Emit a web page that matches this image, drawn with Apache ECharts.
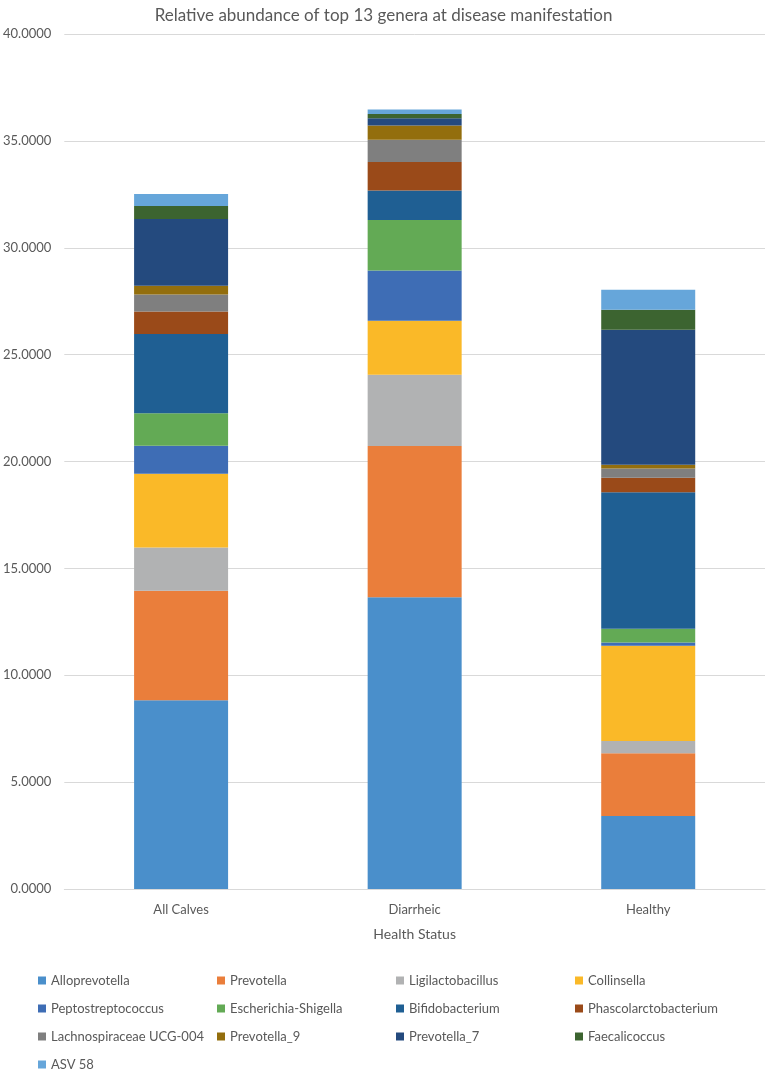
<!DOCTYPE html>
<html><head><meta charset="utf-8">
<script src="https://cdn.jsdelivr.net/npm/echarts@6/dist/echarts.min.js"></script>
<style>html,body{margin:0;padding:0;background:#fff}#c{width:767px;height:1073px}</style>
</head><body><div id="c"></div>
<script>
const categories = ['All Calves', 'Diarrheic', 'Healthy'];
const genera = ['Alloprevotella','Prevotella','Ligilactobacillus','Collinsella','Peptostreptococcus','Escherichia-Shigella','Bifidobacterium','Phascolarctobacterium','Lachnospiraceae UCG-004','Prevotella_9','Prevotella_7','Faecalicoccus','ASV 58'];
const alloprevotella = [8.83, 13.65, 3.41];
const prevotella = [5.12, 7.07, 2.94];
const ligilactobacillus = [2.03, 3.34, 0.57];
const collinsella = [3.45, 2.53, 4.46];
const peptostreptococcus = [1.31, 2.35, 0.15];
const escherichiaShigella = [1.52, 2.36, 0.65];
const bifidobacterium = [3.71, 1.38, 6.38];
const phascolarctobacterium = [1.05, 1.33, 0.68];
const lachnospiraceae = [0.79, 1.04, 0.43];
const prevotella9 = [0.41, 0.67, 0.18];
const prevotella7 = [3.13, 0.34, 6.31];
const faecalicoccus = [0.60, 0.20, 0.94];
const asv58 = [0.56, 0.21, 0.93];
const values = [alloprevotella, prevotella, ligilactobacillus, collinsella, peptostreptococcus, escherichiaShigella, bifidobacterium, phascolarctobacterium, lachnospiraceae, prevotella9, prevotella7, faecalicoccus, asv58];
const colors = ['#4a8fcb','#ea7e3b','#b1b2b3','#fab928','#3e6db5','#63aa55','#1f5f93','#9a4a19','#7f7f7f','#936e0d','#244a7e','#3c6430','#66a6da'];

const font = 'Lato';
const chart = echarts.init(document.getElementById('c'));
chart.setOption({
  animation: false,
  color: colors,
  title: {
    text: 'Relative abundance of top 13 genera at disease manifestation',
    left: 'center', top: 2,
    textStyle: {fontFamily: font, fontSize: 17, fontWeight: 'normal', color: '#595959'}
  },
  grid: {left: 64, right: 2, top: 34, bottom: 184},
  xAxis: {
    type: 'category', data: categories,
    name: 'Health Status', nameLocation: 'middle', nameGap: 38,
    nameTextStyle: {fontFamily: font, fontSize: 14, color: '#595959'},
    axisLine: {lineStyle: {color: '#d9d9d9'}},
    axisTick: {show: false},
    axisLabel: {fontFamily: font, fontSize: 13, color: '#595959', margin: 14}
  },
  yAxis: {
    type: 'value', min: 0, max: 40, interval: 5,
    axisLine: {show: false}, axisTick: {show: false},
    splitLine: {lineStyle: {color: '#d9d9d9'}},
    axisLabel: {fontFamily: font, fontSize: 13, color: '#595959', margin: 13, formatter: v => v.toFixed(4)}
  },
  legend: {
    data: genera,
    left: 33, top: 964, width: 740,
    itemWidth: 8, itemHeight: 8, itemGap: 5, icon: 'rect',
    textStyle: {fontFamily: font, fontSize: 13, color: '#595959', width: 161, lineHeight: 23, overflow: 'none'}
  },
  series: genera.map((g, i) => ({
    name: g, type: 'bar', stack: 'total', barWidth: 94,
    data: values[i]
  }))
});
</script></body></html>
